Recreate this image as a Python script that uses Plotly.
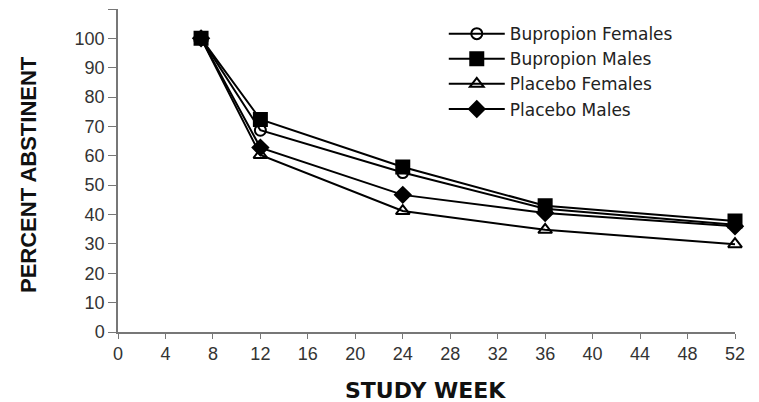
import plotly.graph_objects as go

weeks = [7, 12, 24, 36, 52]
bup_females = [100, 68.7, 54.3, 42.0, 36.5]
bup_males = [100, 72.4, 56.2, 43.0, 37.8]
plac_females = [100, 60.3, 41.2, 34.8, 29.9]
plac_males = [100, 62.8, 46.7, 40.5, 36.0]

x_ticks = list(range(0, 53, 4))
y_ticks = list(range(0, 111, 10))
y_ticktext = [str(v) if v <= 100 else "" for v in y_ticks]

series = [
    ("Bupropion Females", bup_females, "circle-open", 11),
    ("Bupropion Males", bup_males, "square", 13),
    ("Placebo Females", plac_females, "triangle-up-open", 12),
    ("Placebo Males", plac_males, "diamond", 12),
]

fig = go.Figure()
for name, vals, sym, sz in series:
    fig.add_trace(go.Scatter(
        x=weeks, y=vals, name=name, mode="lines+markers",
        line=dict(color="black", width=2),
        marker=dict(symbol=sym, size=sz, color="black",
                    line=dict(color="black", width=2)),
        cliponaxis=False,
    ))

axis_font = dict(family="Liberation Sans, Arial, sans-serif", size=18, color="#333")

fig.update_layout(
    width=759, height=402,
    margin=dict(l=110, r=32, t=1, b=78),
    paper_bgcolor="white", plot_bgcolor="white",
    showlegend=True,
    legend=dict(
        x=0.528, y=0.978, xanchor="left", yanchor="top",
        font=dict(family="DejaVu Sans, sans-serif", size=17, color="#222"),
        itemwidth=56, tracegroupgap=4, bgcolor="rgba(0,0,0,0)",
    ),
    xaxis=dict(
        range=[0, 52], tickvals=x_ticks, ticktext=[str(v) for v in x_ticks],
        showgrid=False, zeroline=False, showline=True, linecolor="#777",
        linewidth=1.5, ticks="outside", ticklen=5, tickcolor="#777",
        tickfont=axis_font,
    ),
    yaxis=dict(
        range=[0, 110], tickvals=y_ticks, ticktext=y_ticktext,
        showgrid=False, zeroline=False, showline=True, linecolor="#777",
        linewidth=1.5, ticks="outside", ticklen=8, tickcolor="#777",
        tickfont=axis_font,
    ),
    annotations=[
        dict(text="<b>STUDY WEEK</b>", xref="paper", yref="paper",
             x=0.4976, y=-0.1796, xanchor="center", yanchor="middle",
             showarrow=False,
             font=dict(family="DejaVu Sans, sans-serif", size=22, color="#111")),
        dict(text="<b>PERCENT ABSTINENT</b>", xref="paper", yref="paper",
             x=-0.1459, y=0.489, xanchor="center", yanchor="middle",
             textangle=-90, showarrow=False,
             font=dict(family="Liberation Sans, Arial, sans-serif", size=22, color="#111")),
    ],
)

fig.write_html("out.html")
